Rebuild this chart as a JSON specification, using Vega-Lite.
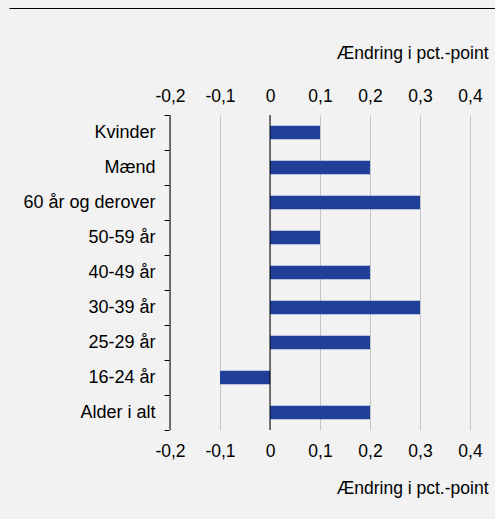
{
  "$schema": "https://vega.github.io/schema/vega-lite/v6.json",
  "background": "#f2f2f2",
  "padding": {"left": 6, "top": 8, "right": 10, "bottom": 40},
  "config": {"font": "Liberation Sans", "view": {"stroke": null}},
  "width": 486,
  "height": 315,
  "data": {
    "values": [
      {"group": "Kvinder", "value": 0.1},
      {"group": "Mænd", "value": 0.2},
      {"group": "60 år og derover", "value": 0.3},
      {"group": "50-59 år", "value": 0.1},
      {"group": "40-49 år", "value": 0.2},
      {"group": "30-39 år", "value": 0.3},
      {"group": "25-29 år", "value": 0.2},
      {"group": "16-24 år", "value": -0.1},
      {"group": "Alder i alt", "value": 0.2}
    ]
  },
  "layer": [
    {
      "layer": [
        {
          "mark": {"type": "bar", "color": "#1f3f98", "height": {"band": 0.38}},
          "encoding": {
            "y": {
              "field": "group",
              "type": "nominal",
              "sort": null,
              "scale": {"paddingInner": 0, "paddingOuter": 0},
              "axis": {
                "title": null,
                "offset": -160,
                "zindex": 1,
                "domain": false,
                "tickColor": "black",
                "tickBand": "extent",
                "tickSize": 5,
                "labelPadding": 9,
                "labelFontSize": 18,
                "labelColor": "black",
                "grid": false
              }
            },
            "x": {
              "field": "value",
              "type": "quantitative",
              "scale": {"domain": [-0.2, 0.4], "range": [161, 461], "nice": false, "zero": false},
              "axis": {
                "orient": "top",
                "values": [-0.2, -0.1, 0, 0.1, 0.2, 0.3, 0.4],
                "labelExpr": "replace(replace(format(datum.value, '.1~f'), '.', ','), '−', '-')",
                "labelFlush": false,
                "labelOverlap": false,
                "domain": false,
                "ticks": false,
                "labelPadding": 10,
                "labelFontSize": 17.5,
                "labelColor": "black",
                "grid": true,
                "gridColor": "#c6c6c6",
                "gridWidth": 1,
                "title": "Ændring i pct.-point",
                "titleFontSize": 17.5,
                "titleFontWeight": "normal",
                "titleColor": "black",
                "titleAnchor": null,
                "titleAlign": "right",
                "titleBaseline": "alphabetic",
                "titleX": 479,
                "titleY": -57
              }
            }
          }
        },
        {
          "data": {"values": [{"ref": -0.2}, {"ref": 0}]},
          "mark": {"type": "rule", "color": "black", "strokeWidth": 1},
          "encoding": {
            "x": {
              "field": "ref",
              "type": "quantitative",
              "axis": {
                "orient": "bottom",
                "values": [-0.2, -0.1, 0, 0.1, 0.2, 0.3, 0.4],
                "labelExpr": "replace(replace(format(datum.value, '.1~f'), '.', ','), '−', '-')",
                "labelFlush": false,
                "labelOverlap": false,
                "domain": false,
                "ticks": false,
                "grid": false,
                "labelPadding": 12,
                "labelFontSize": 17.5,
                "labelColor": "black",
                "title": "Ændring i pct.-point",
                "titleFontSize": 17.5,
                "titleFontWeight": "normal",
                "titleColor": "black",
                "titleAnchor": null,
                "titleAlign": "right",
                "titleBaseline": "alphabetic",
                "titleX": 479,
                "titleY": 63
              }
            }
          }
        }
      ],
      "resolve": {"axis": {"x": "independent"}}
    },
    {
      "data": {"values": [{}]},
      "mark": {"type": "point", "opacity": 0},
      "encoding": {
        "x": {
          "datum": 0,
          "type": "quantitative",
          "scale": {"domain": [0, 1]},
          "axis": {
            "orient": "top",
            "offset": 107,
            "domain": true,
            "domainColor": "black",
            "domainWidth": 1,
            "labels": false,
            "ticks": false,
            "grid": false,
            "title": null
          }
        }
      }
    }
  ],
  "resolve": {"scale": {"x": "independent"}, "axis": {"x": "independent"}}
}
